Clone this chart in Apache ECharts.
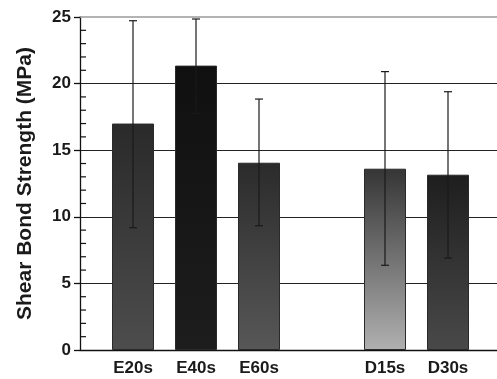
<!DOCTYPE html>
<html>
<head>
<meta charset="utf-8">
<script src="https://cdn.jsdelivr.net/npm/echarts@6/dist/echarts.min.js"></script>
<style>html,body{margin:0;padding:0;background:#fff}#c{width:497px;height:379px}</style>
</head>
<body>
<div id="c"></div>
<script>
const categories = ['E20s', 'E40s', 'E60s', '', 'D15s', 'D30s'];
const means = [17.0, 21.35, 14.06, null, 13.61, 13.16];
const errLow = [9.18, 17.77, 9.33, null, 6.36, 6.9];
const errHigh = [24.72, 24.85, 18.84, null, 20.9, 19.39];
const barTop = ['#2a2a2a', '#101010', '#2b2b2b', '#000', '#353535', '#1e1e1e'];
const barBottom = ['#4d4d4d', '#1d1d1d', '#575757', '#000', '#b0b0b0', '#494949'];
const yTicks = [0, 5, 10, 15, 20, 25];
const yMinorTicks = [1, 2, 3, 4, 6, 7, 8, 9, 11, 12, 13, 14, 16, 17, 18, 19, 21, 22, 23, 24];

const chart = echarts.init(document.getElementById('c'), null, {renderer: 'canvas'});
const FONT = 'Liberation Sans, Arial, sans-serif';
const G = {top: 17, bottom: 29};

const barData = means.map((v, i) => v == null ? null : {
  value: v,
  itemStyle: {
    color: new echarts.graphic.LinearGradient(0, 0, 0, 1, [
      {offset: 0, color: barTop[i]}, {offset: 1, color: barBottom[i]}
    ]),
    borderColor: '#2a2a2a', borderWidth: 1
  }
});
const errData = categories.map((c, i) => errLow[i] == null ? null : [i, errLow[i], errHigh[i]]).filter(d => d);

chart.setOption({
  animation: false,
  grid: [
    {left: 80, right: 0, top: G.top, bottom: G.bottom},
    {left: 101.5, width: 378, top: G.top, bottom: G.bottom}
  ],
  xAxis: [
    {gridIndex: 0, type: 'value', min: 0, max: 1, position: 'bottom',
     axisLine: {show: true, onZero: false, lineStyle: {color: '#111', width: 1.3}},
     axisTick: {show: false}, axisLabel: {show: false}, splitLine: {show: false}},
    {gridIndex: 0, type: 'value', min: 0, max: 1, position: 'top',
     axisLine: {show: true, onZero: false, lineStyle: {color: '#9a9a9a', width: 1.5}},
     axisTick: {show: false}, axisLabel: {show: false}, splitLine: {show: false}},
    {gridIndex: 1, type: 'category', data: categories, boundaryGap: true,
     axisLine: {show: false}, axisTick: {show: false},
     axisLabel: {color: '#1a1a1a', fontFamily: FONT, fontWeight: 'bold', fontSize: 17, margin: 10, interval: 0}}
  ],
  yAxis: [
    {gridIndex: 0, type: 'value', min: 0, max: 25, interval: 5, position: 'left',
     name: 'Shear Bond Strength (MPa)', nameLocation: 'middle', nameRotate: 90, nameGap: 44,
     nameTextStyle: {color: '#1a1a1a', fontFamily: FONT, fontWeight: 'bold', fontSize: 21},
     axisLine: {show: true, lineStyle: {color: '#111', width: 1.3}},
     axisTick: {show: true, inside: false, length: 6, lineStyle: {color: '#111', width: 1.3}},
     axisLabel: {color: '#1a1a1a', fontFamily: FONT, fontWeight: 'bold', fontSize: 17, margin: 9,
       formatter: v => yTicks.indexOf(v) >= 0 ? String(v) : ''},
     splitLine: {show: true, showMaxLine: false, lineStyle: {color: '#222', width: 1.2}}},
    {gridIndex: 1, type: 'value', min: 0, max: 25, interval: 5, show: false}
  ],
  series: [
    {type: 'bar', xAxisIndex: 2, yAxisIndex: 1, data: barData, barWidth: 42, z: 2},
    {type: 'custom', xAxisIndex: 2, yAxisIndex: 1, data: errData, z: 3,
     renderItem: function (params, api) {
       const x = api.coord([api.value(0), 0])[0];
       const lo = api.coord([api.value(0), api.value(1)])[1];
       const hi = api.coord([api.value(0), api.value(2)])[1];
       const st = {stroke: '#1a1a1a', lineWidth: 1.2};
       const cap = 4;
       return {type: 'group', children: [
         {type: 'line', shape: {x1: x, y1: lo, x2: x, y2: hi}, style: st},
         {type: 'line', shape: {x1: x - cap, y1: hi, x2: x + cap, y2: hi}, style: st},
         {type: 'line', shape: {x1: x - cap, y1: lo, x2: x + cap, y2: lo}, style: st}
       ]};
     }},
    {type: 'custom', xAxisIndex: 0, yAxisIndex: 0, data: yMinorTicks.map(v => [0.5, v]), z: 10, silent: true,
     renderItem: function (params, api) {
       const p = api.coord([0, api.value(1)]);
       return {type: 'rect', shape: {x: p[0], y: p[1] - 0.6, width: 6, height: 1.2},
               style: {fill: '#111'}};
     }}
  ]
});
</script>
</body>
</html>
